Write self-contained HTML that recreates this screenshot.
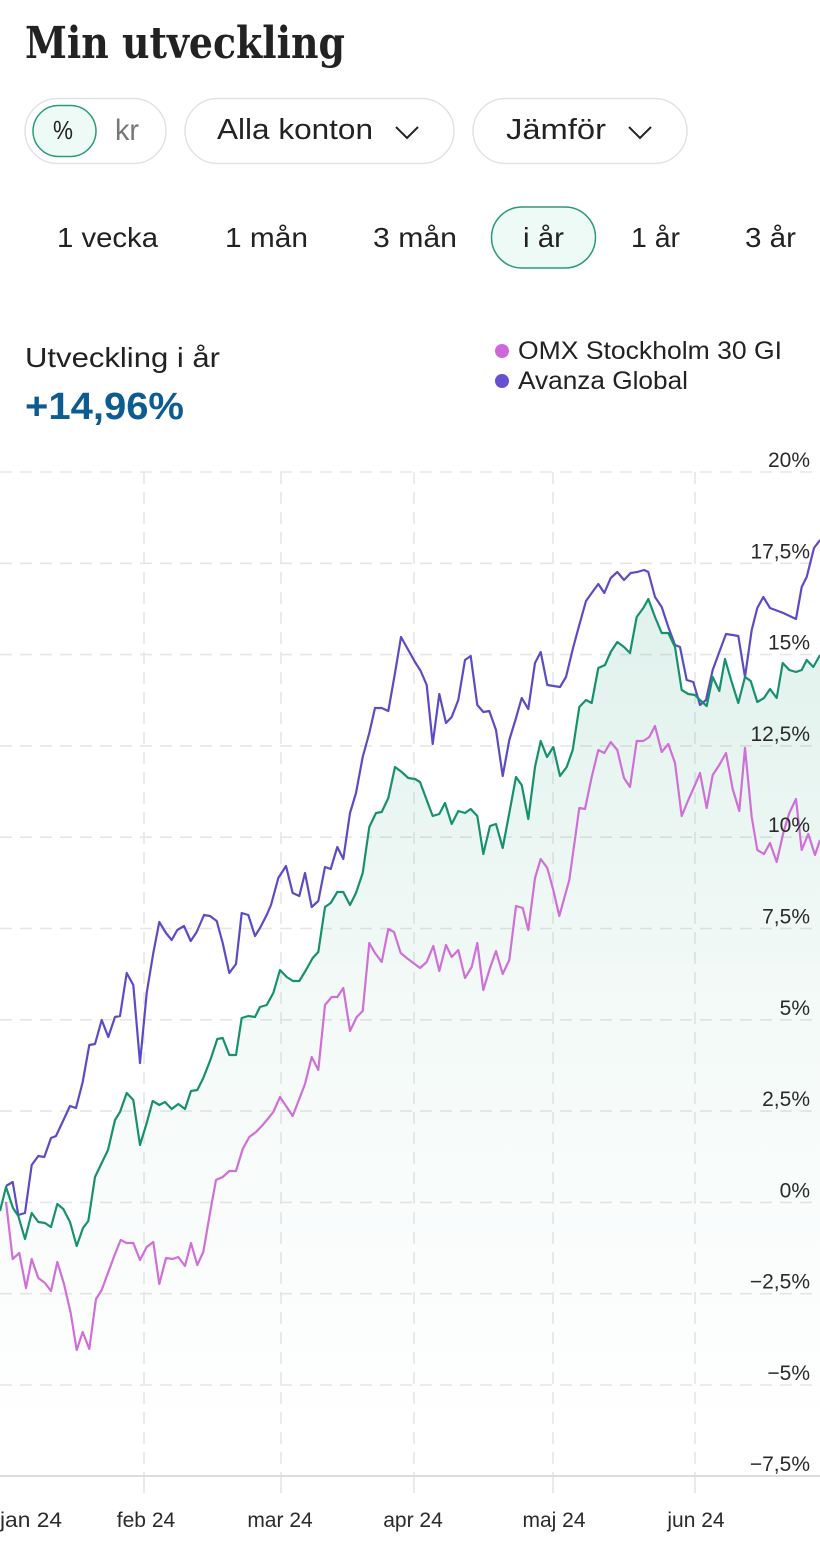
<!DOCTYPE html>
<html><head><meta charset="utf-8"><style>
html,body{margin:0;padding:0;background:#fff;}
svg{display:block;}
</style></head><body>
<svg width="820" height="1554" viewBox="0 0 820 1554" xmlns="http://www.w3.org/2000/svg" font-family="Liberation Sans, sans-serif">
<defs>
<linearGradient id="fg" gradientUnits="userSpaceOnUse" x1="0" y1="580" x2="0" y2="1440">
<stop offset="0" stop-color="#1a9a72" stop-opacity="0.14"/>
<stop offset="0.5" stop-color="#1a9a72" stop-opacity="0.05"/>
<stop offset="1" stop-color="#1a9a72" stop-opacity="0"/>
</linearGradient>
</defs>
<rect width="820" height="1554" fill="#fff"/>

<text x="25" y="58" style="font-family:'DejaVu Serif','Liberation Serif',serif;font-weight:bold;font-size:44px" fill="#222" textLength="320" lengthAdjust="spacingAndGlyphs">Min utveckling</text>

<!-- toggle -->
<rect x="25" y="98.5" width="141" height="65" rx="32.5" fill="#fff" stroke="#e2e2e2" stroke-width="1.5"/>
<rect x="33" y="105.5" width="63" height="51" rx="25.5" fill="#eefaf5" stroke="#2a9a78" stroke-width="1.5"/>
<text x="53" y="139" font-size="26" fill="#222" textLength="20" lengthAdjust="spacingAndGlyphs">%</text>
<text x="115" y="140" font-size="30" fill="#777" textLength="24" lengthAdjust="spacingAndGlyphs">kr</text>

<rect x="185" y="98.5" width="269" height="65" rx="32.5" fill="#fff" stroke="#e2e2e2" stroke-width="1.5"/>
<text x="217" y="139" font-size="29" fill="#222" textLength="156" lengthAdjust="spacingAndGlyphs">Alla konton</text>
<polyline points="396,127 407,138 418,127" fill="none" stroke="#222" stroke-width="2"/>

<rect x="473" y="98.5" width="214" height="65" rx="32.5" fill="#fff" stroke="#e2e2e2" stroke-width="1.5"/>
<text x="506" y="139" font-size="29" fill="#222" textLength="100" lengthAdjust="spacingAndGlyphs">Jämför</text>
<polyline points="629,127 640,138 651,127" fill="none" stroke="#222" stroke-width="2"/>

<!-- periods -->
<text x="57" y="247" font-size="28" fill="#222" textLength="101" lengthAdjust="spacingAndGlyphs">1 vecka</text>
<text x="225" y="247" font-size="28" fill="#222" textLength="83" lengthAdjust="spacingAndGlyphs">1 mån</text>
<text x="373" y="247" font-size="28" fill="#222" textLength="84" lengthAdjust="spacingAndGlyphs">3 mån</text>
<rect x="491.5" y="207" width="104" height="61" rx="30.5" fill="#eefaf5" stroke="#2a9a78" stroke-width="1.5"/>
<text x="523" y="247" font-size="28" fill="#222" textLength="41" lengthAdjust="spacingAndGlyphs">i år</text>
<text x="631" y="247" font-size="28" fill="#222" textLength="49" lengthAdjust="spacingAndGlyphs">1 år</text>
<text x="745" y="247" font-size="28" fill="#222" textLength="51" lengthAdjust="spacingAndGlyphs">3 år</text>

<!-- summary -->
<text x="25" y="367" font-size="28" fill="#222" textLength="195" lengthAdjust="spacingAndGlyphs">Utveckling i år</text>
<text x="25" y="419" font-size="38" font-weight="bold" fill="#0d5c91" textLength="159" lengthAdjust="spacingAndGlyphs">+14,96%</text>
<circle cx="502" cy="351" r="7" fill="#d066da"/>
<text x="518" y="359" font-size="25" fill="#222" textLength="264" lengthAdjust="spacingAndGlyphs">OMX Stockholm 30 GI</text>
<circle cx="502" cy="381" r="7" fill="#6552d0"/>
<text x="518" y="389" font-size="25" fill="#222" textLength="170" lengthAdjust="spacingAndGlyphs">Avanza Global</text>

<!-- grid -->
<g stroke="#e6e6e6" stroke-width="1.6" stroke-dasharray="12 8" fill="none">
<line x1="0" y1="472" x2="820" y2="472"/>
<line x1="0" y1="563.3" x2="820" y2="563.3"/>
<line x1="0" y1="654.6" x2="820" y2="654.6"/>
<line x1="0" y1="745.9" x2="820" y2="745.9"/>
<line x1="0" y1="837.2" x2="820" y2="837.2"/>
<line x1="0" y1="928.5" x2="820" y2="928.5"/>
<line x1="0" y1="1019.8" x2="820" y2="1019.8"/>
<line x1="0" y1="1111.1" x2="820" y2="1111.1"/>
<line x1="0" y1="1202.4" x2="820" y2="1202.4"/>
<line x1="0" y1="1293.7" x2="820" y2="1293.7"/>
<line x1="0" y1="1385" x2="820" y2="1385"/>
<line x1="144" y1="472" x2="144" y2="1476"/>
<line x1="281" y1="472" x2="281" y2="1476"/>
<line x1="414" y1="472" x2="414" y2="1476"/>
<line x1="553" y1="472" x2="553" y2="1476"/>
<line x1="695" y1="472" x2="695" y2="1476"/>
</g>
<g stroke="#e2e2e2" stroke-width="1.5">
<line x1="144" y1="1476" x2="144" y2="1493"/>
<line x1="281" y1="1476" x2="281" y2="1493"/>
<line x1="414" y1="1476" x2="414" y2="1493"/>
<line x1="553" y1="1476" x2="553" y2="1493"/>
<line x1="695" y1="1476" x2="695" y2="1493"/>
</g>
<line x1="0" y1="1476" x2="820" y2="1476" stroke="#dcdcdc" stroke-width="2"/>

<!-- fill -->
<polygon fill="url(#fg)" points="0,1476 0,1211 6,1187 13,1208 18.3,1216 25,1239 31.7,1213 38.3,1222 45,1223 51,1227 57.3,1204 63.3,1209 70,1222 76.7,1246 83,1228 88.3,1221 95,1177 101.7,1163 108,1150 115,1120 120,1112 126.7,1093 133.3,1100 140,1145 146.7,1123 152.7,1101 159.3,1105 165,1102 171.7,1109 178.3,1104 185,1109 191,1091 197.3,1090 203.3,1078 210.7,1059 217.3,1039 222.7,1038 229.3,1055 236,1055 241.7,1018 248.3,1016 255,1017 260,1007 266.7,1005 273.3,993 280,970 286.7,977 293,981 299.3,981 306,970 312.7,958 318.3,952 325,907 330.7,903 337.3,892 343.3,892 350,905 356,893 362.7,873 369.3,827 376,813 381.7,812 388.3,798 395,767 401.7,772 408.3,778 415,779 420,782 426.7,800 432.7,816 439.3,814 445,803 451.7,824 458.3,811 465,813 470.7,809 477.3,816 483.3,854 490,826 496,824 502.7,848 509.3,813 516,777 521.7,785 528.3,819 535,767 540.7,741 547,757 553.3,747 560,776 566.7,767 572.7,750 579.3,707 586,700 591.7,703 598.3,668 605,665 610.7,652 617.3,642 624,647 630,653 636.7,617 643.3,608 648.3,599 655,617 661.7,633 668.3,633 675,647 681.7,690 688.3,694 695,695 700,700 706.7,706 712.7,677 719.3,691 725,659 731.7,682 738.3,703 745,677 750.7,681 757.3,702 764,698 770,689 776.7,698 782.7,663 789.3,670 796,672 801.7,670 806.7,660 813.3,667 820,655 820,1476"/>

<!-- pink OMX -->
<polyline fill="none" stroke="#cf6fd8" stroke-width="2.2" stroke-linejoin="round" points="6,1202 12.7,1259 19.3,1253 26,1288 31.7,1259 38.3,1278 45,1283 51,1291 57.3,1262 64,1284 70.7,1313 76.7,1350 82.7,1332 89.3,1349 96,1299 101.7,1290 108.3,1272 115,1254 120.7,1240 126.7,1243 133.3,1243 140,1260 146.7,1247 153.3,1242 159.3,1284 166,1258 172.7,1259 178.3,1257 185,1266 191,1243 197.3,1265 203.3,1252 210,1213 216,1180 222.7,1177 229.3,1171 236,1171 242.7,1149 249.3,1137 256,1132 262.7,1125 269.3,1117 273.3,1112 280,1097 292.7,1116 305,1084 311.7,1057 318.3,1070 325,1005 331.7,997 337.3,997 343.3,988 350,1031 356.7,1017 362.7,1011 369.3,943 375,953 381.7,962 388.3,929 394,932 400.7,953 406.7,958 413.3,963 420,968 426.7,962 433.3,946 439.3,971 446,945 451.7,957 458.3,950 465,978 471.7,967 477.3,943 483.3,990 490,968 496,951 502.7,974 509.3,960 516,906 522.7,908 528.3,930 535,878 540.7,859 547.3,868 553.3,890 559.3,916 569.3,880 579.3,808 585,809 591.7,777 598.3,750 604.3,753 610.7,742 617.3,750 624,778 630,787 636.7,741 643.3,741 649.3,737 655,726 661.7,752 668.3,744 675,763 681.7,816 688.3,800 695,785 700,773 706.7,808 712.7,775 719.3,765 726,753 732.7,789 739.3,811 745,748 751.7,817 757.3,850 764,854 770,843 776.7,862 783.3,833 789.3,813 796,799 801.7,850 808.3,834 815,855 820,840"/>

<!-- purple Avanza Global -->
<polyline fill="none" stroke="#5b4cc4" stroke-width="2.2" stroke-linejoin="round" points="6,1186 12.7,1182 18.3,1215 25,1213 31.7,1165 38.3,1156 44.3,1157 51,1138 56,1136 70,1106 76,1108 82.7,1082 89.3,1045 95,1044 101.7,1020 108.3,1037 115,1017 120,1016 126.7,973 133.3,985 140,1063 146.7,993 153.3,953 159.3,922 166,933 171.7,940 177.3,930 184,926 190.7,941 196.7,932 204,915 210,916 216.7,921 222.7,943 229.3,973 236,964 241.7,913 248.3,915 255,936 260,928 266.7,915 271,905 278.3,878 286,866 292.7,893 299.3,896 305,873 311.7,907 318.3,901 325,867 330.7,869 337.3,847 343.3,859 350,813 356,793 362.7,757 369.3,733 375,708 381.7,708 388.3,711 395,673 401,637 408.3,650 415,662 420.7,671 426.7,685 432.7,744 439.3,694 446,723 451.7,717 458.3,700 465,660 470.7,656 477.3,705 483.3,712 489.3,711 496,730 502.7,776 509.3,740 516,718 521.7,698 528.3,709 535,663 540.7,652 547.3,685 560,687 566,677 573.3,647 579.3,625 586,601 591.7,593 598.3,584 604.3,593 610.7,578 617.3,572 624,580 630.7,573 637.3,572 644,570 648.3,572 655,597 661.7,607 668.3,627 675,645 680,647 686.7,680 693.3,682 700,705 706,700 712.7,670 719.3,652 726,634 732.7,635 738.3,636 745,677 751.7,630 757.3,608 763.3,597 770,608 783.3,613 796,619 801.7,587 806.7,577 814,548 820,540"/>

<!-- green portfolio -->
<polyline fill="none" stroke="#17916c" stroke-width="2.2" stroke-linejoin="round" points="0,1211 6,1187 13,1208 18.3,1216 25,1239 31.7,1213 38.3,1222 45,1223 51,1227 57.3,1204 63.3,1209 70,1222 76.7,1246 83,1228 88.3,1221 95,1177 101.7,1163 108,1150 115,1120 120,1112 126.7,1093 133.3,1100 140,1145 146.7,1123 152.7,1101 159.3,1105 165,1102 171.7,1109 178.3,1104 185,1109 191,1091 197.3,1090 203.3,1078 210.7,1059 217.3,1039 222.7,1038 229.3,1055 236,1055 241.7,1018 248.3,1016 255,1017 260,1007 266.7,1005 273.3,993 280,970 286.7,977 293,981 299.3,981 306,970 312.7,958 318.3,952 325,907 330.7,903 337.3,892 343.3,892 350,905 356,893 362.7,873 369.3,827 376,813 381.7,812 388.3,798 395,767 401.7,772 408.3,778 415,779 420,782 426.7,800 432.7,816 439.3,814 445,803 451.7,824 458.3,811 465,813 470.7,809 477.3,816 483.3,854 490,826 496,824 502.7,848 509.3,813 516,777 521.7,785 528.3,819 535,767 540.7,741 547,757 553.3,747 560,776 566.7,767 572.7,750 579.3,707 586,700 591.7,703 598.3,668 605,665 610.7,652 617.3,642 624,647 630,653 636.7,617 643.3,608 648.3,599 655,617 661.7,633 668.3,633 675,647 681.7,690 688.3,694 695,695 700,700 706.7,706 712.7,677 719.3,691 725,659 731.7,682 738.3,703 745,677 750.7,681 757.3,702 764,698 770,689 776.7,698 782.7,663 789.3,670 796,672 801.7,670 806.7,660 813.3,667 820,655"/>

<!-- y labels -->
<g font-size="21" fill="#2a2a2a" text-anchor="end">
<text x="810" y="467">20%</text>
<text x="810" y="558.3">17,5%</text>
<text x="810" y="649.6">15%</text>
<text x="810" y="740.9">12,5%</text>
<text x="810" y="832.2">10%</text>
<text x="810" y="923.5">7,5%</text>
<text x="810" y="1014.8">5%</text>
<text x="810" y="1106.1">2,5%</text>
<text x="810" y="1197.4">0%</text>
<text x="810" y="1288.7">−2,5%</text>
<text x="810" y="1380">−5%</text>
<text x="810" y="1471">−7,5%</text>
</g>

<!-- x labels -->
<g font-size="21" fill="#2a2a2a" text-anchor="middle">
<text x="0" y="1527" text-anchor="start" textLength="62" lengthAdjust="spacingAndGlyphs">jan 24</text>
<text x="146" y="1527">feb 24</text>
<text x="280" y="1527">mar 24</text>
<text x="413" y="1527">apr 24</text>
<text x="554" y="1527">maj 24</text>
<text x="696" y="1527">jun 24</text>
</g>
</svg>
</body></html>
